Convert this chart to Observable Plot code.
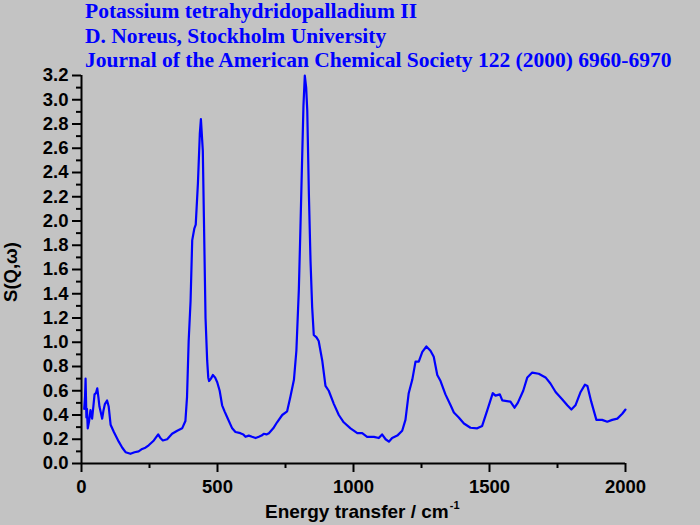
<!DOCTYPE html>
<html>
<head>
<meta charset="utf-8">
<script src="https://cdn.jsdelivr.net/npm/d3@7"></script>
<script src="https://cdn.jsdelivr.net/npm/@observablehq/plot@0.6"></script>
<style>
  html, body { margin: 0; padding: 0; background: #c3c3c3; }
  #wrap { position: relative; width: 700px; height: 525px; overflow: hidden; }
  #title { position: absolute; left: 85px; top: -1px; font-family: "Liberation Serif", "Times New Roman", serif; font-weight: bold; font-size: 21.5px; line-height: 24.5px; color: #0000ff; white-space: nowrap; }
</style>
</head>
<body>
<div id="wrap">
  <div id="chart"></div>
  <div id="title">
    <div>Potassium tetrahydridopalladium II</div>
    <div>D. Noreus, Stockholm University</div>
    <div>Journal of the American Chemical Society 122 (2000) 6960-6970</div>
  </div>
</div>
<script>
const energy = [10,13,15,18,20,23,28,33,39,44,48,53,58,62,66,71,76,81,86,94,100,107,119,137,150,162,180,195,210,223,235,247,266,282,290,299,315,333,352,370,382,388,394,401,407,415,420,428,435,439,446,450,456,462,466,469,476,483,491,499,508,517,526,536,554,566,584,595,603,615,627,640,652,662,670,680,689,705,719,738,756,768,781,790,799,805,811,816,821,826,830,836,842,848,854,864,872,885,897,909,928,946,964,989,1014,1032,1050,1075,1093,1105,1118,1130,1142,1161,1179,1191,1203,1216,1228,1240,1253,1268,1283,1295,1308,1320,1338,1357,1369,1387,1406,1430,1455,1473,1492,1512,1522,1538,1547,1577,1592,1604,1624,1639,1657,1681,1706,1724,1743,1767,1786,1801,1816,1835,1851,1860,1874,1893,1914,1933,1951,1970,1988,2000];
const sq = [0.45,0.55,0.70,0.38,0.45,0.29,0.35,0.44,0.37,0.48,0.57,0.58,0.62,0.55,0.47,0.42,0.37,0.44,0.49,0.52,0.47,0.32,0.26,0.18,0.13,0.093,0.08,0.093,0.10,0.12,0.13,0.15,0.19,0.24,0.21,0.19,0.20,0.245,0.27,0.29,0.35,0.55,1.01,1.34,1.84,1.94,1.97,2.31,2.72,2.84,2.58,2.03,1.20,0.85,0.71,0.68,0.70,0.73,0.71,0.67,0.60,0.48,0.43,0.38,0.29,0.26,0.25,0.24,0.22,0.23,0.22,0.21,0.22,0.23,0.245,0.24,0.25,0.29,0.34,0.40,0.43,0.55,0.69,0.93,1.43,1.95,2.50,2.95,3.20,3.10,2.91,2.22,1.67,1.29,1.06,1.04,1.01,0.85,0.64,0.60,0.49,0.40,0.34,0.29,0.25,0.25,0.22,0.22,0.21,0.24,0.20,0.18,0.21,0.23,0.27,0.36,0.58,0.69,0.84,0.84,0.92,0.965,0.93,0.88,0.73,0.68,0.57,0.48,0.42,0.38,0.33,0.295,0.29,0.31,0.44,0.58,0.56,0.57,0.52,0.51,0.46,0.50,0.60,0.71,0.75,0.74,0.71,0.66,0.59,0.53,0.48,0.445,0.48,0.59,0.65,0.64,0.51,0.36,0.36,0.345,0.36,0.37,0.41,0.445];
const xMajor = [0, 500, 1000, 1500, 2000];
const xMinor = [250, 750, 1250, 1750];
const yMajor = [0, 0.2, 0.4, 0.6, 0.8, 1.0, 1.2, 1.4, 1.6, 1.8, 2.0, 2.2, 2.4, 2.6, 2.8, 3.0, 3.2];
const yMinor = [0.1, 0.3, 0.5, 0.7, 0.9, 1.1, 1.3, 1.5, 1.7, 1.9, 2.1, 2.3, 2.5, 2.7, 2.9, 3.1];

const data = energy.map((e, i) => ({e, s: sq[i]}));

const chart = Plot.plot({
  width: 700,
  height: 525,
  marginLeft: 81,
  marginRight: 75,
  marginTop: 75,
  marginBottom: 62,
  style: { background: "transparent", fontFamily: "'Liberation Sans', Arial, sans-serif", fontWeight: "bold", fontSize: "18.5px", color: "#000" },
  x: { domain: [0, 2000], label: null },
  y: { domain: [0, 3.2], label: null },
  marks: [
    Plot.axisX(xMajor, { tickSize: 9, tickPadding: 7, strokeWidth: 2, tickFormat: d => String(d), fontSize: 18.5, fontWeight: "bold" }),
    Plot.axisX(xMinor, { tickSize: 5, strokeWidth: 2, tickFormat: () => "" }),
    Plot.axisY(yMajor, { tickSize: 9, tickPadding: 4, strokeWidth: 2, tickFormat: d => d.toFixed(1), fontSize: 18.5, fontWeight: "bold" }),
    Plot.axisY(yMinor, { tickSize: 5, strokeWidth: 2, tickFormat: () => "" }),
    Plot.line(data, { x: "e", y: "s", stroke: "#0000ff", strokeWidth: 2.2, clip: false }),
    Plot.ruleY([0], { stroke: "#000", strokeWidth: 2 }),
    Plot.ruleX([0], { stroke: "#000", strokeWidth: 2 })
  ]
});

// axis titles added to the svg
const svg = d3.select(chart);
const xt = svg.append("text")
  .attr("x", 265).attr("y", 518)
  .attr("text-anchor", "start")
  .attr("font-family", "'Liberation Sans', Arial, sans-serif")
  .attr("font-weight", "bold").attr("font-size", 19).attr("fill", "#000");
xt.append("tspan").text("Energy transfer / cm");
xt.append("tspan").attr("font-size", 11).attr("dy", -9).attr("dx", 1).text("-1");

svg.append("text")
  .attr("transform", "translate(17,272) rotate(-90)")
  .attr("text-anchor", "middle")
  .attr("font-family", "'Liberation Sans', Arial, sans-serif")
  .attr("font-weight", "bold").attr("font-size", 18.5).attr("fill", "#000")
  .text("S(Q,ω)");

document.getElementById("chart").appendChild(chart);
</script>
</body>
</html>
